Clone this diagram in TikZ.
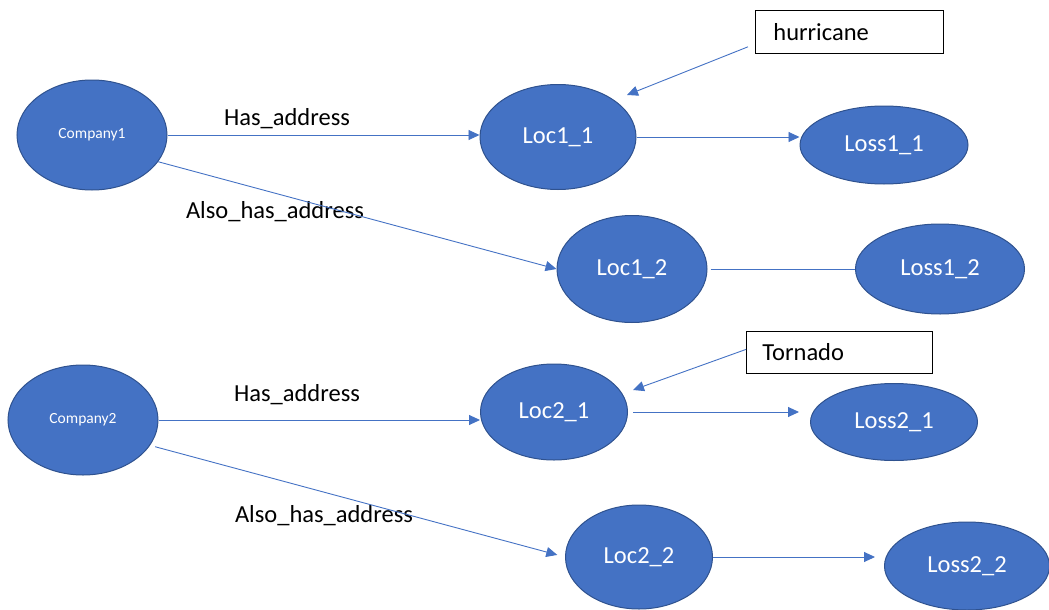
\documentclass[tikz,border=0pt]{standalone}
\usepackage{fontspec}
\setmainfont{Carlito}
\usetikzlibrary{shapes.geometric,arrows.meta}
\definecolor{nodeblue}{HTML}{4472C4}
\definecolor{nodeedge}{HTML}{2F528F}
\begin{document}
\begin{tikzpicture}[x=1pt,y=-1pt,
  ent/.style={ellipse,fill=nodeblue,draw=nodeedge,line width=1pt,inner sep=0pt,text=white,font=\fontsize{24.5}{28}\selectfont},
  co/.style={ent,font=\fontsize{15.5}{18}\selectfont},
  conn/.style={draw=nodeblue,line width=0.9pt},
  arr/.style={conn,-{Triangle[length=11pt,width=10pt]}},
  lbl/.style={font=\fontsize{24.5}{28}\selectfont,text=black,inner sep=0pt},
  hazard/.style={draw=black,line width=0.8pt,fill=white,anchor=north west,inner xsep=0pt,align=left,font=\fontsize{24.5}{28}\selectfont}]
\useasboundingbox (0,0) rectangle (1049,610);

% entities
\node[co, minimum width=150pt, minimum height=110pt] (c1) at (92,135) {Company1};
\node[co, minimum width=150pt, minimum height=110pt] (c2) at (83,420) {Company2};
\node[ent, minimum width=156pt, minimum height=105pt] (l11) at (558,137) {Loc1\_1};
\node[ent, minimum width=168pt, minimum height=78pt] (loss11) at (884,145) {Loss1\_1};
\node[ent, minimum width=150pt, minimum height=107pt] (l12) at (632,269) {Loc1\_2};
\node[ent, minimum width=169pt, minimum height=90pt] (loss12) at (940,269) {Loss1\_2};
\node[ent, minimum width=147pt, minimum height=96pt] (l21) at (554,412) {Loc2\_1};
\node[ent, minimum width=167pt, minimum height=77pt] (loss21) at (894,422) {Loss2\_1};
\node[ent, minimum width=147pt, minimum height=104pt] (l22) at (639,557) {Loc2\_2};
\node[ent, minimum width=165pt, minimum height=88pt] (loss22) at (967,566) {Loss2\_2};

% hazard boxes
\node[hazard, minimum height=43pt, text width=188pt] (hur) at (755,10) {\hspace*{18pt}hurricane};
\node[hazard, minimum height=42pt, text width=186pt] (tor) at (746,331) {\hspace*{16pt}Tornado};
\coordinate (hurtip) at (627,95);
\coordinate (tortip) at (633,390);

% labels
\node[lbl] (t1) at (287,119) {Has\_address};
\node[lbl] (t2) at (275,212) {Also\_has\_address};
\node[lbl] (t3) at (297,395) {Has\_address};
\node[lbl] (t4) at (324,516) {Also\_has\_address};

% connectors
\draw[arr] (c1.east) -- (c1.east -| l11.west);
\draw[arr] (c1.-22) -- (l12.west);
\draw[arr] ([xshift=-7pt,yshift=7pt]hur.south west) -- (hurtip);
\draw[arr] (l11.east) -- (l11.east -| loss11.west);
\draw[conn] ([xshift=3pt]l12.east) -- (loss12.west);
\draw[arr] ([yshift=3pt]tor.west) -- (tortip);
\draw[arr] (c2.east) -- (c2.east -| l21.west);
\draw[arr, shorten >=8pt] ([xshift=6pt]c2.-22) -- (l22.west);
\draw[arr, shorten >=11pt] ([xshift=5pt]l21.east) -- (l21.east -| loss21.west);
\draw[arr, shorten >=9pt] (l22.east) -- (l22.east -| loss22.west);
\end{tikzpicture}
\end{document}
